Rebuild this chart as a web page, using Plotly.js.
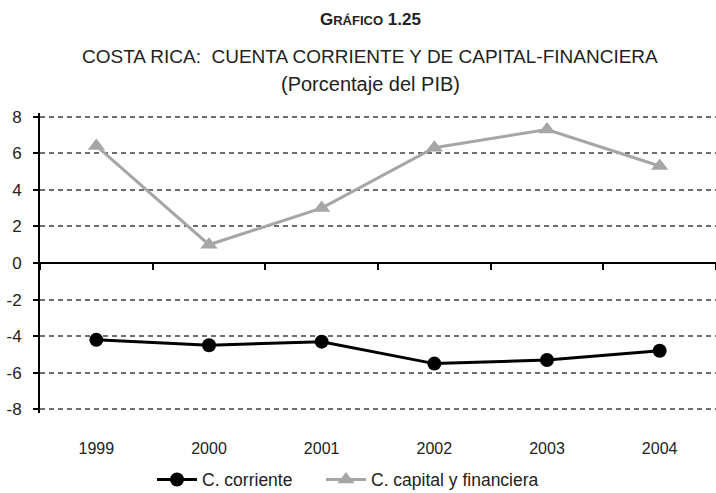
<!DOCTYPE html>
<html><head><meta charset="utf-8">
<script src="https://cdn.plot.ly/plotly-3.0.1.min.js"></script>
<style>body{margin:0;background:#fff}#chart{width:716px;height:493px}</style>
</head><body><div id="chart"></div>
<script>
const years = ['1999','2000','2001','2002','2003','2004'];
const corriente = [-4.2, -4.5, -4.3, -5.5, -5.3, -4.8];
const capital = [6.4, 1.0, 3.0, 6.3, 7.3, 5.3];
const yTicks = [-8,-6,-4,-2,0,2,4,6,8];

const font = 'Liberation Sans, Arial, sans-serif';

const traces = [
  {x: years, y: corriente, name: 'C. corriente', type: 'scatter', mode: 'lines+markers', legend: 'legend',
   line: {color: '#000', width: 3}, marker: {symbol: 'circle', size: 14, color: '#000'}},
  {x: years, y: capital, name: 'C. capital y financiera', type: 'scatter', mode: 'lines+markers', legend: 'legend2',
   line: {color: '#a6a6a6', width: 3}, marker: {symbol: 'triangle-up', size: 15, color: '#a6a6a6'}},
  {x: years, y: [0,0,0,0,0,0], xaxis: 'x2', type: 'scatter', mode: 'none', showlegend: false, hoverinfo: 'skip'}
];

// y range slightly padded so that the ±8 gridlines are drawn
const yPad = 0.2;
const pxPerUnit = 292 / 16;
const mTop = Math.round(117 - yPad * pxPerUnit);
const mBot = Math.round(493 - 409 - yPad * pxPerUnit);

const legendBase = {orientation: 'h', xanchor: 'left', yref: 'container', y: 0.027, yanchor: 'middle',
  font: {family: font, size: 17.5, color: '#222'}, itemwidth: 40, bgcolor: 'rgba(0,0,0,0)'};

const layout = {
  width: 716, height: 493,
  margin: {l: 40, r: 0, t: mTop, b: mBot, autoexpand: false},
  paper_bgcolor: '#fff', plot_bgcolor: '#fff',
  font: {family: font, size: 16, color: '#222'},
  showlegend: true,
  legend: Object.assign({}, legendBase, {x: (152 - 40) / 676}),
  legend2: Object.assign({}, legendBase, {x: (321 - 40) / 676}),
  xaxis: {type: 'category', showgrid: false, showline: false, zeroline: false, automargin: false,
          ticks: '', ticklabelstandoff: 24, tickfont: {family: font, size: 16, color: '#222'},
          range: [-0.5, 5.5]},
  xaxis2: {type: 'category', overlaying: 'x', anchor: 'free', position: 0.5, side: 'bottom',
           showgrid: false, showline: true, linecolor: '#000', linewidth: 2, automargin: false,
           ticks: 'outside', tickson: 'boundaries', ticklen: 6, tickwidth: 2, tickcolor: '#000',
           showticklabels: false, range: [-0.5, 5.5], zeroline: false},
  yaxis: {range: [-8 - yPad, 8 + yPad], tickvals: yTicks, ticktext: yTicks.map(String),
          showgrid: true, gridcolor: '#6e6e6e', griddash: '5px,4px', gridwidth: 2,
          showline: true, linecolor: '#000', linewidth: 2, ticks: 'outside', ticklen: 5,
          tickwidth: 2, tickcolor: '#000', zeroline: false, ticklabelstandoff: 8, automargin: false,
          tickfont: {family: font, size: 17, color: '#222'}},
  annotations: []
};
const plotH = 493 - mTop - mBot, plotW = 716 - 40;
function py(pix){ return (493 - mBot - pix) / plotH; }
function px(pix){ return (pix - 40) / plotW; }
layout.annotations.push(
  {text: '<b>G<span style="font-size:13px">RÁFICO</span> 1.25</b>', xref: 'paper', yref: 'paper',
   x: px(370), y: py(20), xanchor: 'center', yanchor: 'middle', showarrow: false,
   font: {family: font, size: 17, color: '#222'}},
  {text: 'COSTA RICA:  CUENTA CORRIENTE Y DE CAPITAL-FINANCIERA', xref: 'paper', yref: 'paper',
   x: px(370), y: py(56), xanchor: 'center', yanchor: 'middle', showarrow: false,
   font: {family: font, size: 19, color: '#222'}},
  {text: '(Porcentaje del PIB)', xref: 'paper', yref: 'paper',
   x: px(370), y: py(84), xanchor: 'center', yanchor: 'middle', showarrow: false,
   font: {family: font, size: 20, color: '#222'}}
);

Plotly.newPlot('chart', traces, layout, {displayModeBar: false, staticPlot: true});
</script></body></html>
